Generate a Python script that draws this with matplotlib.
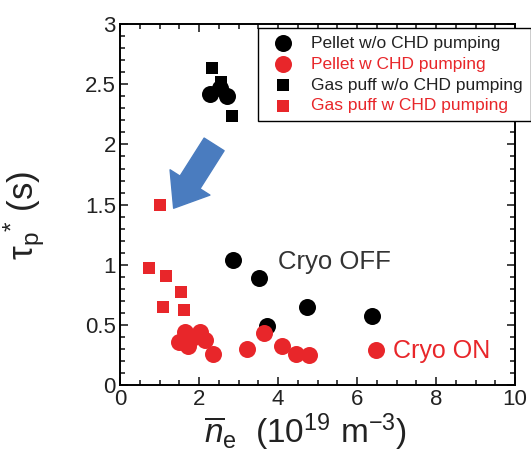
import numpy as np
import matplotlib
matplotlib.use('Agg')
import matplotlib.pyplot as plt
from matplotlib.ticker import MultipleLocator

plt.rcParams['font.family'] = ['Liberation Sans', 'DejaVu Sans']
plt.rcParams['mathtext.fontset'] = 'custom'
plt.rcParams['mathtext.rm'] = 'Liberation Sans'
plt.rcParams['mathtext.it'] = 'Liberation Sans:italic'

# pellet, without CHD pumping (cryo off)
pel_off_x = [2.28, 2.53, 2.70, 2.87, 3.52, 3.71, 4.73, 6.37]
pel_off_y = [2.42, 2.47, 2.40, 1.04, 0.89, 0.49, 0.65, 0.57]

# pellet, with CHD pumping (cryo on)
pel_on_x = [1.50, 1.65, 1.73, 1.82, 2.03, 2.15, 2.36, 3.21, 3.65, 4.09, 4.45, 4.78, 6.47]
pel_on_y = [0.36, 0.44, 0.32, 0.39, 0.44, 0.37, 0.26, 0.30, 0.43, 0.32, 0.26, 0.25, 0.29]

# gas puff, without CHD pumping
gas_off_x = [2.33, 2.56, 2.84]
gas_off_y = [2.64, 2.52, 2.24]

# gas puff, with CHD pumping
gas_on_x = [0.74, 1.16, 1.54, 1.10, 1.63, 1.01]
gas_on_y = [0.97, 0.91, 0.77, 0.65, 0.62, 1.50]

red = '#e8262a'
blue = '#4a7cbf'

fig = plt.figure(figsize=(5.31, 4.66), dpi=100)
ax = fig.add_axes([0.226, 0.174, 0.744, 0.774])

ax.scatter(pel_off_x, pel_off_y, s=150, c='black', marker='o', lw=0, zorder=3,
           label='Pellet w/o CHD pumping')
ax.scatter(pel_on_x, pel_on_y, s=150, c=red, marker='o', lw=0, zorder=4,
           label='Pellet w CHD pumping')
ax.scatter(gas_off_x, gas_off_y, s=75, c='black', marker='s', lw=0, zorder=3,
           label='Gas puff w/o CHD pumping')
ax.scatter(gas_on_x, gas_on_y, s=75, c=red, marker='s', lw=0, zorder=4,
           label='Gas puff w CHD pumping')

# blue arrow pointing from cryo off to cryo on
ax.annotate('', xy=(1.32, 1.45), xytext=(2.42, 2.02),
            arrowprops=dict(arrowstyle='simple,head_length=1.1,head_width=1.7,tail_width=0.85',
                            fc=blue, ec=blue, mutation_scale=20), zorder=2)

ax.text(4.0, 1.02, 'Cryo OFF', fontsize=18.5, color='#333333', va='center', ha='left')
ax.text(6.91, 0.28, 'Cryo ON', fontsize=18, color=red, va='center', ha='left')

ax.set_xlim(0, 10)
ax.set_ylim(0, 3)
ax.xaxis.set_major_locator(MultipleLocator(2))
ax.xaxis.set_minor_locator(MultipleLocator(0.5))
ax.yaxis.set_major_locator(MultipleLocator(0.5))
ax.yaxis.set_minor_locator(MultipleLocator(0.1))
ax.set_xticks([0, 2, 4, 6, 8, 10])
ax.set_yticks([0, 0.5, 1, 1.5, 2, 2.5, 3])
ax.set_yticklabels(['0', '0.5', '1', '1.5', '2', '2.5', '3'])
ax.tick_params(which='both', direction='in', top=True, right=True, labelsize=16,
               width=1.2, colors='#222222')
ax.tick_params(which='major', length=6, pad=3)
ax.tick_params(which='minor', length=3.5)
for sp in ax.spines.values():
    sp.set_linewidth(1.4)

ax.set_xlabel(r'$\overline{n}_\mathrm{e}$  (10$^{19}$ m$^{\mathrm{-3}}$)', fontsize=24,
              labelpad=3, color='#222222')
ax.xaxis.set_label_coords(0.47, -0.075, transform=ax.transAxes)
ax.xaxis.label.set_va('top')
ax.set_ylabel(r'τ$_\mathrm{p}{}^{*}$ (s)', fontsize=25, labelpad=10, color='#222222')
ax.yaxis.set_label_coords(-0.185, 0.47)

leg = ax.legend(loc='upper left', bbox_to_anchor=(0.35, 0.99), borderaxespad=0,
                fancybox=False, edgecolor='black', framealpha=1, fontsize=12.5,
                handletextpad=0.7, labelspacing=0.33, borderpad=0.45, handlelength=1.9,
                scatterpoints=1)
leg.get_frame().set_linewidth(1.0)
for t, col in zip(leg.get_texts(), ['#222222', red, '#222222', red]):
    t.set_color(col)

fig.savefig('out.png', dpi=100)
